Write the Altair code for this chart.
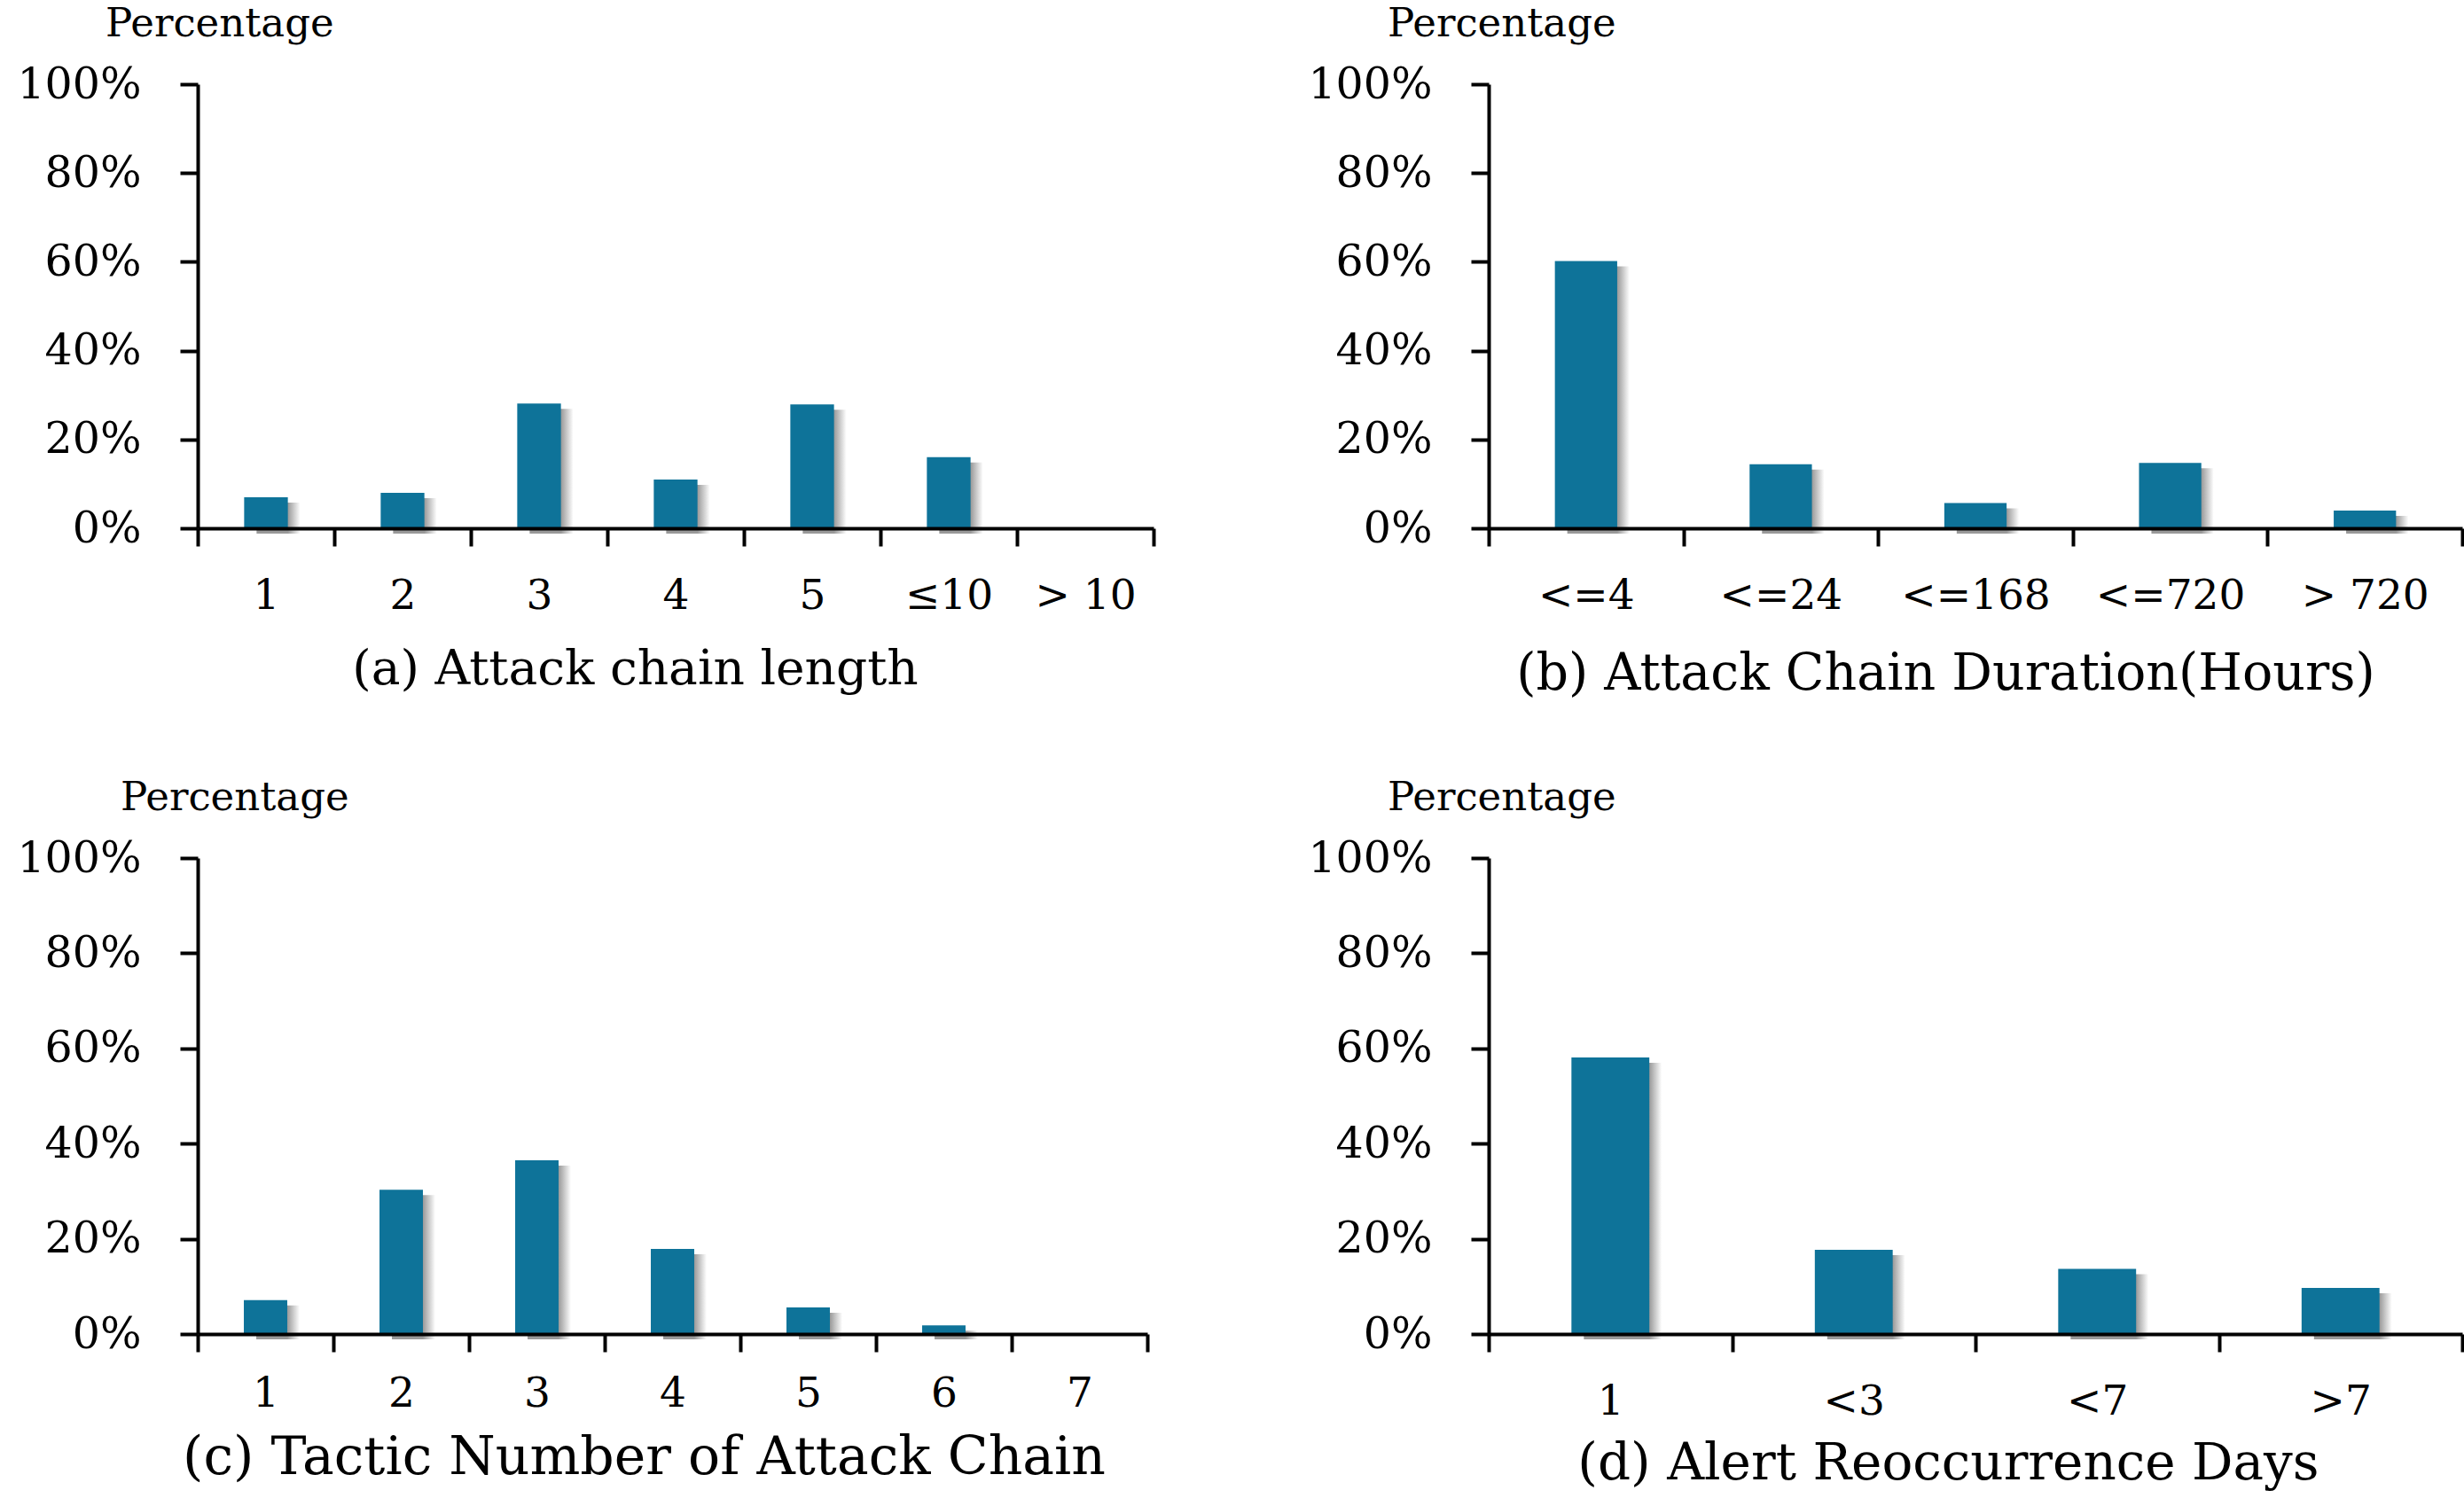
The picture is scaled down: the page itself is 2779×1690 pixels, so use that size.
import altair as alt
import pandas as pd

FONT = "DejaVu Serif"
BAR_COLOR = "#0E7399"

# (a) Attack chain length
len_cats = ["1", "2", "3", "4", "5", "≤10", "> 10"]
len_vals = [7.0, 8.0, 28.1, 11.0, 27.9, 16.0, 0.0]

# (b) Attack chain duration, hours
dur_cats = ["<=4", "<=24", "<=168", "<=720", "> 720"]
dur_vals = [60.2, 14.4, 5.7, 14.7, 4.0]

# (c) Tactic number of attack chain
tac_cats = ["1", "2", "3", "4", "5", "6", "7"]
tac_vals = [7.1, 30.3, 36.5, 17.9, 5.6, 1.8, 0.0]

# (d) Alert reoccurrence days
rec_cats = ["1", "<3", "<7", ">7"]
rec_vals = [58.1, 17.7, 13.7, 9.7]

y_ticks = [0, 20, 40, 60, 80, 100]


def panel(cats, vals, caption, width, height, title_x, title_pad, title_size,
          label_pad, pct_dx, bar_band=0.32, shadow_px=14):
    df = pd.DataFrame({"cat": cats, "pct": vals})

    x = alt.X(
        "cat:N",
        sort=cats,
        scale=alt.Scale(paddingInner=0, paddingOuter=0),
        axis=alt.Axis(
            title=caption,
            titleX=title_x,
            titleAlign="center",
            titlePadding=title_pad,
            titleFont=FONT,
            titleFontSize=title_size,
            titleFontWeight="normal",
            titleColor="black",
            tickBand="extent",
            labelAngle=0,
            labelFont=FONT,
            labelFontSize=47,
            labelColor="black",
            labelPadding=label_pad,
            tickSize=20,
            tickWidth=4,
            tickColor="black",
            domainWidth=4,
            domainColor="black",
            zindex=1,
        ),
    )
    y = alt.Y(
        "pct:Q",
        scale=alt.Scale(domain=[0, 100]),
        axis=alt.Axis(
            title=None,
            values=y_ticks,
            labelExpr="datum.value + '%'",
            grid=False,
            labelFont=FONT,
            labelFontSize=49,
            labelColor="black",
            labelPadding=44,
            tickSize=20,
            tickWidth=4,
            tickColor="black",
            domainWidth=4,
            domainColor="black",
            zindex=1,
        ),
    )

    # soft drop shadow to the right of each bar
    bar_px = width / len(cats) * bar_band
    fade_start = max(0.0, 1 - shadow_px / bar_px)
    shadow = (
        alt.Chart(df)
        .transform_filter("datum.pct > 0")
        .mark_bar(
            width=alt.RelativeBandSize(bar_band),
            xOffset=shadow_px,
            yOffset=6,
            y2Offset=0,
            fill=alt.Gradient(
                gradient="linear",
                x1=0, x2=1, y1=0, y2=0,
                stops=[
                    alt.GradientStop(offset=0, color="#999999"),
                    alt.GradientStop(offset=fade_start, color="#999999"),
                    alt.GradientStop(offset=1, color="#ffffff"),
                ],
            ),
        )
        .encode(x=x, y=y)
    )

    bars = (
        alt.Chart(df)
        .mark_bar(width=alt.RelativeBandSize(bar_band), color=BAR_COLOR)
        .encode(x=x, y=y)
    )

    return alt.layer(shadow, bars).properties(
        width=width,
        height=height,
        title=alt.TitleParams(
            "Percentage",
            anchor="start",
            frame="group",
            dx=pct_dx,
            offset=21,
            font=FONT,
            fontSize=45,
            fontWeight="normal",
            color="black",
        ),
    )


a = panel(len_cats, len_vals, "(a) Attack chain length",
          1078, 501, 493, 33, 55, 33, -104)
b = panel(dur_cats, dur_vals, "(b) Attack Chain Duration(Hours)",
          1098, 501, 515, 37, 57, 33, -114)
c = panel(tac_cats, tac_vals, "(c) Tactic Number of Attack Chain",
          1071, 537, 503, 20, 60, 24, -87)
d = panel(rec_cats, rec_vals, "(d) Alert Reoccurrence Days",
          1098, 537, 518, 18, 58, 33, -114)

chart = (
    alt.concat(a, b, c, d, columns=2, spacing={"row": 372, "column": 378}, bounds="flush")
    .properties(padding={"left": 18, "top": 5, "right": 0, "bottom": 5}, background="white")
    .configure_view(stroke=None)
)

chart.save("out.html", embed_options={"renderer": "svg", "actions": False})
